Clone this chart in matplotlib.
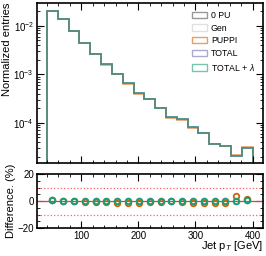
import numpy as np
import matplotlib
matplotlib.use('Agg')
import matplotlib.pyplot as plt
from matplotlib.patches import Patch

plt.rcParams['font.family'] = ['Liberation Sans', 'DejaVu Sans']
plt.rcParams['mathtext.fontset'] = 'custom'
plt.rcParams['mathtext.rm'] = 'Liberation Sans'
plt.rcParams['mathtext.it'] = 'Liberation Sans:italic'

# jet pT binning (19 bins between 40 and 400 GeV)
bin_lo, bin_hi, n_bins = 40, 400, 19

# normalized entries
entries_ref = [0.0204, 0.01355, 0.00767, 0.00446, 0.00265, 0.0016, 0.00100,
               0.000649, 0.000403, 0.000308, 0.000199, 0.000129, 0.000117,
               8.0e-5, 6.3e-5, 3.64e-5, 3.36e-5, 2.11e-5, 3.05e-5]
entries_puppi = [0.0206, 0.01355, 0.00767, 0.00444, 0.00262, 0.00159, 0.000995,
                 0.00064, 0.000397, 0.000305, 0.000198, 0.000127, 0.000115,
                 7.9e-5, 6.25e-5, 3.59e-5, 3.31e-5, 2.18e-5, 3.10e-5]

# difference (%) w.r.t. Gen
diff_puppi = [1.0, 0.0, 0.0, -0.8, -0.8, -0.8, -1.2, -1.5, -1.5, -1.0,
              -0.5, -0.3, -0.5, -1.5, -1.3, -1.3, -1.5, 3.8, 1.8]
diff_total_lam = [0.5, 0.0, 0.0, 0.0, 0.0, 0.0, 0.0, 0.0, 0.0, 0.0,
                  0.0, 0.0, 0.0, 0.0, 0.0, 0.0, 0.0, 0.3, 0.6]

edges = np.linspace(bin_lo, bin_hi, n_bins + 1)
centers = 0.5 * (edges[1:] + edges[:-1])

fig = plt.figure(figsize=(2.66, 2.56), dpi=100)
ax = fig.add_axes([0.138, 0.362, 0.850, 0.626])
rax = fig.add_axes([0.138, 0.109, 0.850, 0.211], sharex=ax)

series = [('0 PU', entries_ref, '#555555', 0.6),
          ('Gen', entries_ref, '#cccccc', 0.6),
          ('PUPPI', entries_puppi, '#d95f02', 0.6),
          ('TOTAL', entries_ref, '#7570b3', 0.6),
          ('TOTAL + $\\lambda$', entries_ref, '#1b9e77', 0.6)]
handles = []
for name, vals, col, a in series:
    ax.stairs(vals, edges, color=col, alpha=a, lw=1.2)
    handles.append(Patch(facecolor='none', edgecolor=col, alpha=a, lw=1.0, label=name))

ax.set_yscale('log')
ax.set_ylim(1.46e-5, 0.0294)
ax.set_ylabel('Normalized entries', fontsize=8, loc='top', labelpad=1)
ax.legend(handles=handles, loc='upper right', fontsize=6.3, frameon=False,
          handlelength=1.7, handleheight=0.75, labelspacing=0.42,
          handletextpad=0.5, borderaxespad=0.5)
plt.setp(ax.get_xticklabels(), visible=False)

# lower panel
rax.axhline(0, color='#ff3030', lw=0.9)
rax.axhline(10, color='#ff6060', lw=0.9, ls=':')
rax.axhline(-10, color='#ff6060', lw=0.9, ls=':')
rax.plot(centers, diff_puppi, 'o', mfc='none', mec='#d95f02', ms=4, mew=1.3)
rax.plot(centers, diff_total_lam, 'o', mfc='none', mec='#1b9e77', ms=4, mew=1.5)
rax.set_ylim(-20, 20)
rax.set_yticks([-20, 0, 20])
rax.set_xticks([100, 200, 300, 400])
rax.set_ylabel('Difference. (%)', fontsize=8, labelpad=1)
rax.set_xlabel('Jet p$_{T}$ [GeV]', fontsize=8, loc='right', labelpad=-1)

for a_ in (ax, rax):
    a_.minorticks_on()
    a_.tick_params(which='both', direction='in', top=True, right=True,
                   labelsize=7, pad=2)
    a_.tick_params(which='major', length=5, width=0.8)
    a_.tick_params(which='minor', length=2.5, width=0.6)
    for s in a_.spines.values():
        s.set_linewidth(1.2)
rax.yaxis.set_minor_locator(matplotlib.ticker.MultipleLocator(5))
ax.xaxis.set_minor_locator(matplotlib.ticker.MultipleLocator(20))

fig.savefig('out.png', dpi=100)
